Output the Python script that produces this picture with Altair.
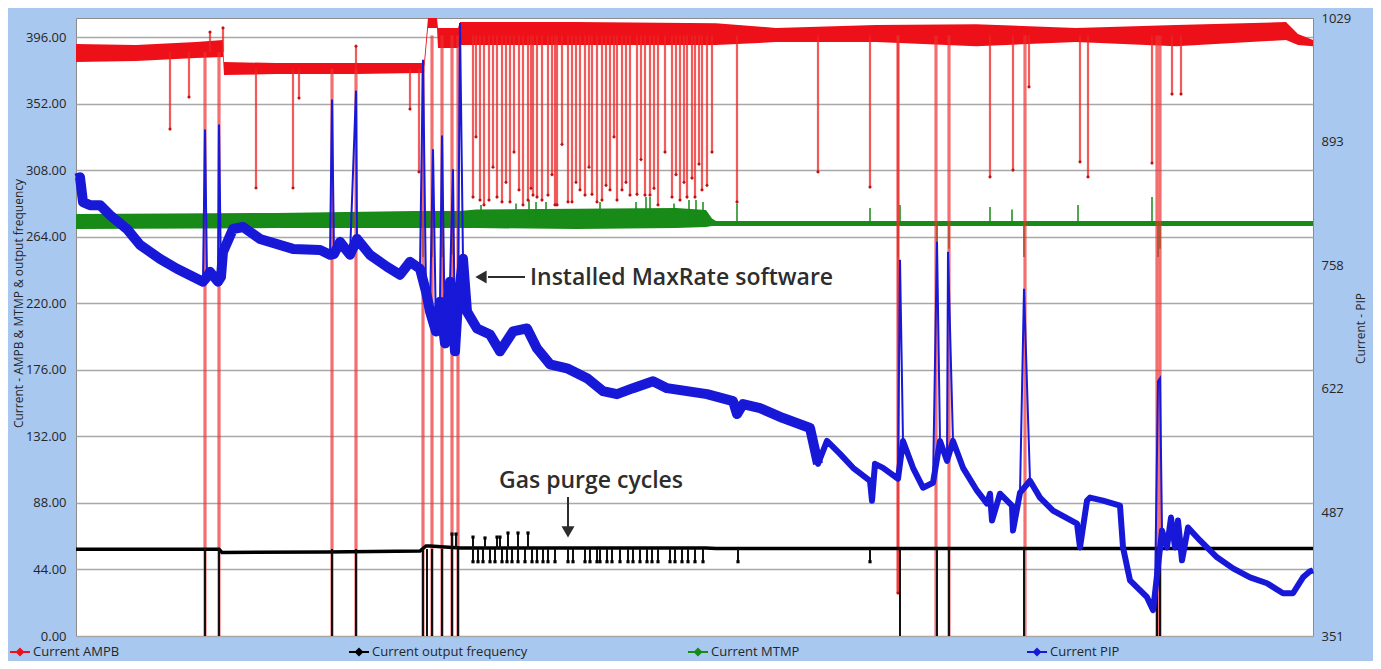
import altair as alt
import pandas as pd

FONT = "Open Sans"
GREEN = "#178a17"
BLUE = "#1818d8"
BLACK = "#000000"

SERIES = ["Current AMPB", "Current output frequency", "Current MTMP", "Current PIP"]
SERIES_COLORS = ["#ee1018", "#000000", "#178a17", "#1818d8"]

LEFT_TICKS = [0, 44, 88, 132, 176, 220, 264, 308, 352, 396]
RIGHT_TICKS = [351, 486.6, 622.2, 757.8, 893.4, 1029]

# ---- AMPB (left axis): noise band ----
red_t = [0, 60, 120, 147, 148, 200, 280, 344, 348, 352, 361, 362, 382, 384, 500, 640, 700, 800, 900, 1000, 1100, 1210, 1222, 1237]
red_lo = [379.5, 380.1, 382.1, 382.8, 370.9, 371.5, 371.5, 372.2, 372.2, 402.0, 402.0, 388.7, 388.7, 390.7, 390.7, 390.7, 392.7, 392.7, 390.0, 392.7, 390.0, 394.0, 390.7, 390.0]
red_hi = [391.4, 390.7, 392.7, 394.0, 379.5, 378.8, 378.8, 378.8, 378.8, 408.6, 408.6, 402.0, 402.0, 405.9, 405.9, 405.2, 402.0, 403.9, 404.5, 402.0, 403.9, 405.9, 398.0, 394.0]
# AMPB spikes (time, tip value)
red_sp_t = [94, 113, 129, 134, 143, 147, 180, 217, 223, 256, 280, 280, 334, 343, 347, 356, 366, 376, 382,
            397, 404, 408, 413, 421, 426, 434, 443, 447, 452, 457, 461, 466, 472, 479, 481, 492, 496, 504,
            509, 516, 521, 526, 534, 541, 546, 554, 561, 569, 574, 582, 596, 604, 611, 616, 619, 626, 661,
            742, 794, 822, 860, 873, 914, 937, 949, 953, 1004, 1012, 1076, 1081, 1084, 1096, 1105,
            400, 417, 430, 438, 455, 476, 486, 500, 513, 530, 538, 550, 565, 578, 589, 600, 608, 623, 631, 636]
red_sp_v = [335.2, 356.3, 0, 399.3, 0, 402.0, 296.2, 296.2, 355.7, 0, 390.0, 0, 348.4, 306.8, 0, 0, 0, 0, 0,
            290.2, 288.2, 285.0, 288.2, 290.2, 287.0, 287.0, 294.9, 285.0, 288.2, 291.5, 290.2, 288.2, 291.5, 285.0, 285.0, 287.0, 287.0, 294.9,
            291.5, 292.0, 287.0, 288.2, 294.9, 288.2, 294.9, 291.5, 292.0, 291.5, 291.5, 285.0, 290.2, 288.2, 290.2, 302.8, 290.2, 294.9, 287.0,
            306.8, 296.8, 28.4, 0, 0, 303.5, 308.1, 0, 363.0, 313.4, 303.5, 312.7, 0, 0, 358.3, 358.3,
            330.0, 310.0, 300.0, 320.0, 296.0, 305.0, 325.0, 300.0, 310.0, 298.0, 330.0, 300.0, 315.0, 296.0, 320.0, 305.0, 300.0, 312.0, 298.0, 320.0]
red_level_t = [148, 350]          # level changes
red_level_v = [386.0, 375.0, 397.0]

# ---- MTMP (left axis) ----
green_t = [0, 200, 340, 384, 400, 500, 600, 630, 636, 640, 1237]
green_lo = [269.1, 269.7, 269.7, 269.7, 269.7, 269.1, 269.7, 270.4, 271.1, 271.1, 271.1]
green_hi = [279.0, 279.7, 281.0, 281.0, 282.0, 282.5, 283.0, 281.6, 276.0, 274.4, 274.4]
GREEN_BASE = 273.7
green_sp_t = [347, 356, 366, 376, 405, 440, 453, 460, 470, 524, 560, 570, 574, 598, 613, 620, 627, 661, 794, 822,
              824, 861, 873, 914, 936, 948, 1002, 1076, 1082, 1084]
green_sp_v = [250.6, 250.6, 250.6, 252.0, 285.0, 286.0, 288.2, 287.0, 287.0, 287.0, 287.0, 290.2, 290.2, 286.0, 288.2, 288.2, 287.0, 286.0, 283.0, 250.6,
              285.0, 255.0, 256.0, 283.6, 282.0, 250.6, 285.0, 290.2, 250.6, 256.0]

# ---- output frequency (left axis) ----
black_t = [0, 143, 146, 250, 344, 350, 354, 384, 630, 640, 1237]
black_v = [57.3, 57.3, 55.2, 55.5, 56.2, 59.5, 59.5, 58.2, 58.2, 57.9, 57.9]
BLACK_BASE = 57.5
black_zero_t = [129, 143, 256, 280, 347, 351, 356, 366, 376, 382, 824, 861, 873, 948, 1081, 1084]
purge_down_t = [397, 402, 407, 414, 419, 426, 431, 436, 442, 449, 456, 461, 467, 472, 479, 492, 497, 509, 514,
                521, 524, 531, 536, 544, 552, 557, 564, 571, 576, 582, 594, 599, 606, 612, 619, 627, 662, 794]
PURGE_LOW = 49.1
purge_up_t = [376, 380, 397, 409, 421, 424, 432, 442, 452]
purge_up_v = [67.4, 67.4, 65.4, 64.8, 65.4, 65.4, 68.1, 68.1, 68.1]

# ---- PIP (right axis) ----
blue_t = [0, 4, 7, 14, 24, 34, 51, 64, 84, 101, 117, 127, 129, 131, 134, 142, 143, 145, 147, 157,
          167, 184, 217, 244, 254, 256, 258, 264, 274, 280, 281, 294, 311, 324, 334, 344, 347, 350, 354, 357,
          360, 364, 366, 369, 372, 374, 377, 379, 382, 384, 387, 391, 401, 414, 424, 437, 451, 461, 474, 491,
          511, 527, 541, 557, 577, 591, 611, 631, 657, 661, 667, 684, 707, 734, 742, 751, 764, 777, 794, 796,
          799, 807, 822, 824, 827, 837, 847, 857, 861, 864, 871, 872, 877, 887, 901, 911, 914, 916, 924, 936,
          937, 944, 948, 954, 964, 977, 1001, 1004, 1011, 1014, 1027, 1044, 1047, 1054, 1071, 1077, 1079, 1082, 1084, 1086,
          1091, 1095, 1099, 1102, 1106, 1112, 1124, 1141, 1157, 1174, 1191, 1207, 1217, 1227, 1234, 1237]
blue_v = [853.0, 854.3, 827.0, 823.7, 823.7, 812.8, 797.5, 780.1, 764.8, 753.9, 745.1, 739.7, 906.7, 745.1, 750.6, 739.7, 912.2, 745.1, 772.4, 797.5,
          799.7, 786.6, 775.7, 774.6, 769.2, 939.5, 770.0, 783.4, 769.2, 949.3, 786.6, 769.2, 756.1, 747.3, 761.5, 753.9, 983.2, 728.8, 706.9, 884.9,
          685.1, 717.8, 900.2, 672.0, 717.8, 739.7, 863.1, 663.3, 717.8, 1023.5, 764.8, 706.9, 688.4, 681.8, 663.3, 685.1, 688.4, 666.5, 649.1, 644.7,
          633.8, 619.6, 616.3, 622.9, 630.5, 622.9, 619.6, 616.3, 608.7, 594.5, 605.4, 601.0, 590.1, 579.2, 539.9, 565.0, 550.8, 535.5, 521.3, 499.5,
          539.9, 535.5, 523.5, 763.7, 565.0, 535.5, 513.7, 519.1, 783.4, 565.0, 543.2, 772.4, 565.0, 535.5, 510.4, 496.2, 507.1, 477.6, 507.1, 494.0,
          466.7, 508.2, 732.0, 521.3, 502.8, 488.6, 474.4, 448.2, 499.5, 502.8, 499.5, 494.0, 448.2, 412.1, 393.6, 379.4, 397.9, 630.5, 633.8, 466.7,
          448.2, 480.9, 448.2, 477.6, 434.0, 470.0, 455.8, 437.3, 425.2, 415.4, 408.9, 397.9, 397.9, 415.4, 422.0, 423.1]
blue_spike_t = [129, 143, 256, 280, 347, 357, 366, 377, 384, 824, 861, 872, 948, 1082, 1084]

# ---- annotations ----
ann1_t, ann1_v, ann1_text = [454], [236.7], ["Installed MaxRate software"]
ann2_t, ann2_v, ann2_text = [515], [102.5], ["Gas purge cycles"]

LEFT_TITLE = "Current - AMPB & MTMP & output frequency"

# ------------------------------------------------------------------
X = alt.X("t", type="quantitative", scale=alt.Scale(domain=[0, 1237], nice=False, zero=False), axis=None)
LEFT_SCALE = alt.Scale(domain=[0, 408.6], nice=False, zero=False)
LEFT_AXIS = alt.Axis(values=LEFT_TICKS, format=".2f", title=LEFT_TITLE, grid=True, gridColor="#a8a8a8",
                     gridWidth=1.5, ticks=False, domain=False, labelFont=FONT, labelFontSize=13,
                     labelColor="#262626", labelPadding=10, titleFont=FONT, titleFontSize=12,
                     titleFontWeight="normal", titleColor="#262626", titleAngle=270, titleX=-58,
                     titleY=285, titleAlign="center", titleBaseline="middle")


def yl(field):
    return alt.Y(field, type="quantitative", scale=LEFT_SCALE, axis=LEFT_AXIS)


RIGHT_Y = alt.Y("v", type="quantitative", scale=alt.Scale(domain=[351, 1029], nice=False, zero=False),
                axis=alt.Axis(orient="right", values=RIGHT_TICKS, format=".0f", grid=False, ticks=False,
                              domain=False, labelFont=FONT, labelFontSize=13, labelColor="#262626",
                              labelPadding=8, title="Current - PIP", titleFont=FONT, titleFontSize=12,
                              titleFontWeight="normal", titleColor="#262626", titleAngle=270, titleX=47,
                              titleY=310, titleAlign="center", titleBaseline="middle"))

# data frames
red_band_df = pd.DataFrame({"t": red_t, "lo": red_lo, "hi": red_hi, "series": SERIES[0]})


def red_level(t):
    if t < red_level_t[0]:
        return red_level_v[0]
    if t < red_level_t[1]:
        return red_level_v[1]
    return red_level_v[2]


red_sp_df = pd.DataFrame({"t": red_sp_t, "tip": red_sp_v, "base": [red_level(t) for t in red_sp_t]})
red_sp_part = red_sp_df[red_sp_df["tip"] > 0]
red_sp_zero = red_sp_df[red_sp_df["tip"] <= 30]

green_df = pd.DataFrame({"t": green_t, "lo": green_lo, "hi": green_hi})
green_sp_df = pd.DataFrame({"t": green_sp_t, "tip": green_sp_v, "base": GREEN_BASE})

black_df = pd.DataFrame({"t": black_t, "v": black_v})
black_sp_df = pd.DataFrame({
    "t": black_zero_t + purge_down_t + purge_up_t,
    "tip": [0.0] * len(black_zero_t) + [PURGE_LOW] * len(purge_down_t) + purge_up_v,
    "base": BLACK_BASE,
})
black_tip_df = black_sp_df[black_sp_df["tip"] > 0]

blue_df = pd.DataFrame({"t": blue_t, "v": blue_v})
blue_df["spike"] = blue_df["t"].isin(blue_spike_t)
blue_band1 = blue_df[(~blue_df["spike"]) & (blue_df["t"] <= 742)]
blue_band2 = blue_df[(~blue_df["spike"]) & (blue_df["t"] >= 734)]

ann1_df = pd.DataFrame({"t": ann1_t, "v": ann1_v, "label": ann1_text})
ann2_df = pd.DataFrame({"t": ann2_t, "v": ann2_v, "label": ann2_text})
arrow_shaft_df = pd.DataFrame({"t": [412, 492], "t2": [449, 492], "v": [237.3, 91.9], "v2": [237.3, 71.4]})
head1_df = pd.DataFrame({"t": [405], "v": [237.3]})
head2_df = pd.DataFrame({"t": [492], "v": [68.8]})

LEGEND_PATH = "M-1,-0.1L1,-0.1L1,0.1L-1,0.1Z M0,-0.45L0.45,0L0,0.45L-0.45,0Z"
ANN_COLOR = "#2d2d2d"

# layers on the left axis
green_band = alt.Chart(green_df).mark_area(color=GREEN).encode(x=X, y=yl("lo"), y2="hi")
green_sp = alt.Chart(green_sp_df).mark_rule(color=GREEN, strokeWidth=1.5).encode(x=X, y=yl("base"), y2="tip")
red_band = alt.Chart(red_band_df).mark_area(opacity=1).encode(
    x=X, y=yl("lo"), y2="hi",
    color=alt.Color("series", type="nominal", scale=alt.Scale(domain=SERIES, range=SERIES_COLORS),
                    legend=alt.Legend(orient="none", legendX=-66, legendY=624, direction="horizontal",
                                      columns=4, gridAlign="all", columnPadding=160, title=None,
                                      symbolType=LEGEND_PATH, symbolSize=400, symbolStrokeWidth=0,
                                      labelFont=FONT, labelFontSize=13, labelColor="#262626",
                                      labelOffset=3, padding=0)))
red_sp = alt.Chart(red_sp_part).mark_rule(color="#ec2424", opacity=0.75, strokeWidth=2.2).encode(x=X, y=yl("base"), y2="tip")
red_zero = alt.Chart(red_sp_zero).mark_rule(color="#ee3030", opacity=0.7, strokeWidth=3.2).encode(x=X, y=yl("base"), y2="tip")
red_tips = alt.Chart(red_sp_part).mark_point(shape="diamond", filled=True, size=14, color="#c01010", opacity=1).encode(x=X, y=yl("tip"))
black_line = alt.Chart(black_df).mark_line(color=BLACK, strokeWidth=3.5).encode(x=X, y=yl("v"))
black_sp = alt.Chart(black_sp_df).mark_rule(color="#111111", strokeWidth=2).encode(x=X, y=yl("base"), y2="tip")
black_tips = alt.Chart(black_tip_df).mark_point(shape="square", filled=True, size=10, color=BLACK, opacity=1).encode(x=X, y=yl("tip"))
ann1 = alt.Chart(ann1_df).mark_text(font=FONT, fontSize=23, fontWeight=600, color=ANN_COLOR, baseline="middle", align="left").encode(
    x=X, y=yl("v"), text="label")
ann2 = alt.Chart(ann2_df).mark_text(font=FONT, fontSize=23, fontWeight=600, color=ANN_COLOR, baseline="middle", align="center").encode(
    x=X, y=yl("v"), text="label")
shaft = alt.Chart(arrow_shaft_df).mark_rule(color=ANN_COLOR, strokeWidth=2).encode(x=X, x2="t2", y=yl("v"), y2="v2")
head1 = alt.Chart(head1_df).mark_point(shape="triangle-left", filled=True, size=170, color=ANN_COLOR, opacity=1).encode(x=X, y=yl("v"))
head2 = alt.Chart(head2_df).mark_point(shape="triangle-down", filled=True, size=170, color=ANN_COLOR, opacity=1).encode(x=X, y=yl("v"))

left = alt.layer(green_band, green_sp, red_band, red_sp, red_zero, red_tips, black_line, black_sp, black_tips,
                 shaft, head1, head2, ann1, ann2)

# layers on the right axis
b1 = alt.Chart(blue_band1).mark_line(color=BLUE, strokeWidth=10, strokeJoin="round").encode(x=X, y=RIGHT_Y)
b2 = alt.Chart(blue_band2).mark_line(color=BLUE, strokeWidth=6, strokeJoin="round").encode(x=X, y=RIGHT_Y)
b3 = alt.Chart(blue_df).mark_line(color=BLUE, strokeWidth=2).encode(x=X, y=RIGHT_Y)
right = alt.layer(b1, b2, b3)

chart = alt.layer(left, right).resolve_scale(y="independent").properties(
    width=1237, height=618,
    padding={"left": 68, "top": 10, "right": 60, "bottom": 25},
    autosize=alt.AutoSizeParams(type="none"),
    background="#a9c8f0",
).configure_view(fill="white", stroke="#8c8c8c", strokeWidth=1)

chart.save("out.html", embed_options={"renderer": "svg", "actions": False})
